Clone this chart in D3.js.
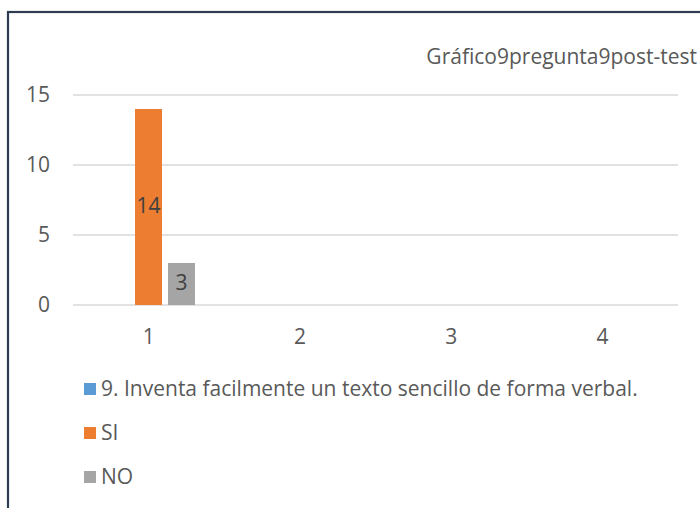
<!DOCTYPE html>
<html>
<head>
<meta charset="utf-8">
<script src="https://cdn.jsdelivr.net/npm/d3@7"></script>
<style>
  body { margin: 0; background: #fff; }
  svg { display: block; font-family: "Open Sans", sans-serif; }
</style>
</head>
<body>
<svg width="700" height="508"></svg>
<script>
// Datos del gráfico
const categories = ["1", "2", "3", "4"];
const seriesNames = ["9. Inventa facilmente un texto sencillo de forma verbal.", "SI", "NO"];
const serieInventa = [0, 0, 0, 0];
const serieSI = [14, 0, 0, 0];
const serieNO = [3, 0, 0, 0];
const yTicks = [0, 5, 10, 15];
const title = "Gráfico9pregunta9post-test";

const colors = ["#5b9bd5", "#ed7d31", "#a5a5a5"];
const values = [serieInventa, serieSI, serieNO];
const fontSize = 21;

const svg = d3.select("svg");

// Borde del gráfico
svg.append("rect")
    .attr("x", 8)
    .attr("y", 12)
    .attr("width", 800)
    .attr("height", 600)
    .attr("fill", "none")
    .attr("stroke", "#2f3b50")
    .attr("stroke-width", 2.2);

// Titulo
svg.append("text")
    .attr("x", 697)
    .attr("y", 64)
    .attr("text-anchor", "end")
    .attr("font-size", fontSize)
    .attr("fill", "#595959")
    .text(title);

// Scale
const xScale = d3.scaleBand()
    .domain(categories)
    .range([73, 678]);

const xInner = d3.scaleBand()
    .domain(d3.range(seriesNames.length))
    .range([29, 122])
    .paddingInner(6 / 33);

const yScale = d3.scaleLinear()
    .domain([0, 15])
    .range([305, 95]);

// Gridlines
svg.append("g")
    .selectAll("line")
    .data(yTicks)
    .enter()
    .append("line")
    .attr("x1", 73)
    .attr("x2", 678)
    .attr("y1", d => yScale(d))
    .attr("y2", d => yScale(d))
    .attr("stroke", "#d9d9d9")
    .attr("stroke-width", 1.5);

// Asse Y
const yAxis = svg.append("g")
    .attr("transform", "translate(50,0)")
    .call(d3.axisLeft(yScale).tickValues(yTicks).tickSize(0).tickPadding(0));
yAxis.select(".domain").remove();
yAxis.selectAll("text")
    .attr("font-family", "Open Sans, sans-serif")
    .attr("font-size", fontSize)
    .attr("fill", "#595959");

// Asse X
const xAxis = svg.append("g")
    .attr("transform", "translate(0,305)")
    .call(d3.axisBottom(xScale).tickSize(0).tickPadding(24));
xAxis.select(".domain").remove();
xAxis.selectAll("text")
    .attr("font-family", "Open Sans, sans-serif")
    .attr("font-size", fontSize)
    .attr("fill", "#595959");

// Barre
const bars = [];
values.forEach((serie, s) => {
    serie.forEach((v, i) => {
        bars.push({ s: s, cat: categories[i], v: v });
    });
});

svg.append("g")
    .selectAll("rect")
    .data(bars.filter(d => d.v > 0))
    .enter()
    .append("rect")
    .attr("x", d => xScale(d.cat) + xInner(d.s))
    .attr("y", d => yScale(d.v))
    .attr("width", xInner.bandwidth())
    .attr("height", d => yScale(0) - yScale(d.v))
    .attr("fill", d => colors[d.s]);

// Etichette
svg.append("g")
    .selectAll("text")
    .data(bars.filter(d => d.v > 0))
    .enter()
    .append("text")
    .attr("x", d => xScale(d.cat) + xInner(d.s) + xInner.bandwidth() / 2)
    .attr("y", d => (yScale(d.v) + yScale(0)) / 2)
    .attr("dy", "0.3em")
    .attr("text-anchor", "middle")
    .attr("font-size", fontSize)
    .attr("fill", "#404040")
    .text(d => d.v);

// Legenda
const legend = svg.append("g")
    .selectAll("g")
    .data(seriesNames)
    .enter()
    .append("g")
    .attr("transform", (d, i) => `translate(84,${389 + i * 44})`);

legend.append("rect")
    .attr("x", 0)
    .attr("y", -6)
    .attr("width", 12)
    .attr("height", 12)
    .attr("fill", (d, i) => colors[i]);

legend.append("text")
    .attr("x", 17)
    .attr("y", 0)
    .attr("dy", "0.35em")
    .attr("font-size", fontSize)
    .attr("fill", "#595959")
    .text(d => d);
</script>
</body>
</html>
